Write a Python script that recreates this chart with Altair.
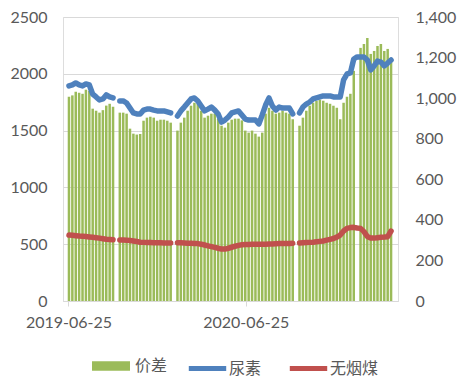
import altair as alt
import pandas as pd

# weekly observation dates (mid-week)
dates = pd.date_range("2019-06-26", periods=96, freq="7D")

# 价差 (left axis)
spread = [1798, 1810, 1842, 1833, 1824, 1860, 1850, 1693, 1675, 1658,
          1680, 1720, 1736, 1710, None, 1658, 1658, 1649, 1517, 1473,
          1465, 1470, 1587, 1614, 1622, 1614, 1587, 1596, 1596, 1587,
          1570, None, 1500, 1570, 1614, 1675, 1719, 1745, 1736, 1675,
          1614, 1631, 1649, 1649, 1605, 1543, 1526, 1570, 1596, 1605,
          1605, 1590, 1500, 1482, 1500, 1473, 1447, 1482, 1649, 1701,
          1675, 1649, 1658, 1675, 1658, 1649, 1600, None, 1543, 1614,
          1675, 1719, 1745, 1763, 1772, 1763, 1745, 1736, 1719, 1701,
          1600, 1745, 1798, 1824, 2026, None, 2228, 2263, 2315, 2175,
          2201, 2245, 2263, 2201, 2219, 2140]

# 尿素 (right axis)
urea = [1060, 1065, 1075, 1065, 1060, 1070, 1065, 1020, 1006, 991,
        996, 1016, 1006, 1001, None, 986, 986, 976, 951, 927,
        922, 922, 941, 946, 946, 941, 937, 937, 937, 932,
        927, None, 912, 937, 956, 976, 996, 1001, 986, 961,
        937, 946, 956, 941, 922, 882, 892, 907, 927, 932,
        937, 917, 897, 892, 892, 892, 873, 917, 966, 1001,
        961, 941, 956, 951, 951, 951, 922, None, 927, 956,
        971, 981, 996, 1001, 1006, 1011, 1011, 1011, 1006, 1006,
        1006, 1090, 1119, 1124, 1193, 1203, 1203, 1203, 1188, 1139,
        1159, 1183, 1178, 1159, 1173, 1188]

# 无烟煤 (right axis)
coal = [325, 324, 322, 320, 319, 318, 316, 314, 312, 310,
        307, 304, 303, 302, None, 301, 301, 300, 298, 296,
        293, 290, 289, 288, 288, 287, 287, 287, 286, 286,
        286, None, 287, 287, 286, 285, 285, 284, 283, 280,
        276, 272, 268, 264, 260, 256, 256, 260, 265, 270,
        274, 277, 278, 279, 280, 280, 280, 280, 280, 281,
        281, 282, 283, 283, 284, 284, 285, None, 286, 287,
        288, 289, 290, 292, 294, 296, 300, 304, 308, 315,
        325, 345, 358, 362, 363, 360, 358, 342, 318, 310,
        310, 312, 314, 315, 317, 345]

left_ticks = [0, 500, 1000, 1500, 2000, 2500]
right_ticks = [0, 200, 400, 600, 800, 1000, 1200, 1400]

GREEN = "#9BBB59"
BLUE = "#4F81BD"
RED = "#C0504D"
GRAY = "#595959"
FONT = "Lato"
CJK = "Noto Sans CJK SC"

bars_df = pd.DataFrame({"date": dates, "spread": spread})
lines_df = pd.concat([
    pd.DataFrame({"date": dates, "series": "尿素", "value": urea}),
    pd.DataFrame({"date": dates, "series": "无烟煤", "value": coal}),
])

x_enc = alt.X(
    "date:T",
    scale=alt.Scale(domain=[alt.DateTime(year=2019, month=6, date=24),
                            alt.DateTime(year=2021, month=4, date=25)]),
    axis=alt.Axis(
        values=[alt.DateTime(year=2019, month=6, date=25),
                alt.DateTime(year=2020, month=6, date=25)],
        format="%Y-%m-%d", title=None, grid=False,
        domain=True, domainColor="#D9D9D9", ticks=True, tickColor="#D9D9D9",
        tickSize=5, labelPadding=8, labelFont=FONT, labelFontSize=16,
        labelColor=GRAY,
    ),
)

bars = alt.Chart(bars_df).mark_bar(size=2.5).encode(
    x=x_enc,
    y=alt.Y("spread:Q", scale=alt.Scale(domain=[0, 2500], nice=False),
            axis=alt.Axis(orient="left", values=left_ticks, format="d", title=None,
                          grid=True, gridColor="#D9D9D9", domain=False, ticks=False,
                          labelPadding=16, labelFont=FONT, labelFontSize=16,
                          labelColor=GRAY)),
    color=alt.Color("k:N", scale=alt.Scale(domain=["价差"], range=[GREEN]),
                    legend=alt.Legend(orient="none", legendX=29, legendY=330,
                                      title=None, direction="horizontal",
                                      symbolType="M-1,-0.25L1,-0.25L1,0.25L-1,0.25Z",
                                      symbolSize=1444, symbolStrokeWidth=0,
                                      labelFont=CJK, labelFontSize=16, labelColor=GRAY,
                                      labelOffset=5)),
).transform_calculate(k="'价差'")

lines = alt.Chart(lines_df).mark_line(strokeWidth=5.5, strokeCap="round",
                                      strokeJoin="round",
                                      invalid="break-paths-filter-domains").encode(
    x="date:T",
    y=alt.Y("value:Q", scale=alt.Scale(domain=[0, 1400], nice=False),
            axis=alt.Axis(orient="right", values=right_ticks, format=",d", title=None,
                          grid=False, domain=False, ticks=False,
                          labelPadding=17, labelFont=FONT, labelFontSize=16,
                          labelColor=GRAY)),
    color=alt.Color("series:N", scale=alt.Scale(domain=["尿素", "无烟煤"], range=[BLUE, RED]),
                    legend=alt.Legend(orient="none", legendX=123, legendY=330,
                                      title=None, direction="horizontal",
                                      gridAlign="none",
                                      symbolType="stroke", symbolSize=1400,
                                      symbolStrokeWidth=5, columnPadding=17,
                                      labelFont=CJK, labelFontSize=16, labelColor=GRAY,
                                      labelOffset=0)),
)

chart = alt.layer(bars, lines).resolve_scale(y="independent", color="independent").properties(
    width=335, height=284,
    autosize=alt.AutoSizeParams(type="none"),
    padding={"left": 55, "top": 9, "right": 64, "bottom": 82},
).configure_view(stroke=None).configure(background="white")

chart.save("out.html", embed_options={"renderer": "svg", "actions": False})
